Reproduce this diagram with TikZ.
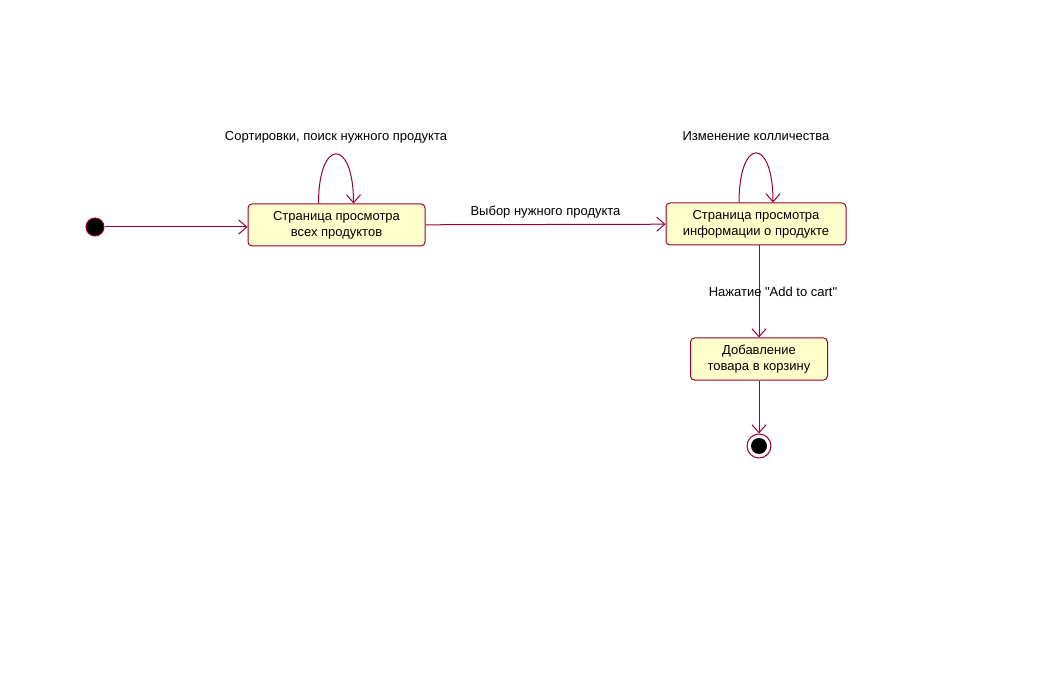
\documentclass[tikz,border=0pt]{standalone}
\usepackage{fontspec}
\setmainfont{Liberation Sans}
\usetikzlibrary{arrows.meta}
\definecolor{umlred}{RGB}{153,0,51}
\definecolor{umlyellow}{RGB}{255,255,204}

\begin{document}
\begin{tikzpicture}[x=1pt, y=-1pt,
    state/.style={draw=umlred, line width=1pt, fill=umlyellow, rectangle, rounded corners=4pt, minimum height=42pt, inner sep=0pt, align=center, font=\fontsize{13}{16}\selectfont},
    trans/.style={draw=umlred, line width=1pt, -{Straight Barb[length=8pt, width=14pt]}},
    lbl/.style={font=\fontsize{13}{15}\selectfont, inner sep=1pt}]
    \useasboundingbox (0,0) rectangle (1047,676);

    % States
    \node[circle, fill=black, draw=umlred, line width=1pt, minimum size=18pt, inner sep=0pt] (init) at (95,227) {};
    \node[state, minimum width=177pt] (state-1) at (336.5,225) {Страница просмотра\\всех продуктов};
    \node[state, minimum width=180pt] (state-2) at (756,224) {Страница просмотра\\информации о продукте};
    \node[state, minimum width=137pt] (state-3) at (759,359) {Добавление\\товара в корзину};
    \node[circle, fill=white, draw=umlred, line width=1pt, minimum size=24pt, inner sep=0pt] (final) at (759,446) {};
    \node[circle, fill=black, minimum size=16pt, inner sep=0pt] (final-dot) at (final.center) {};

    % Transitions
    \draw[trans] (init) -- (init -| state-1.west);
    \draw[trans] (state-1) -- node[lbl, above=5pt] {Выбор нужного продукта} (state-2);
    \draw[trans] ([xshift=-18pt]state-1.north) .. controls +(0,-66) and +(0,-66) .. node[lbl, above=9pt] {Сортировки, поиск нужного продукта} ([xshift=17pt]state-1.north);
    \draw[trans] ([xshift=-17pt]state-2.north) .. controls +(0,-66) and +(0,-66) .. node[lbl, above=11pt] {Изменение колличества} ([xshift=17pt]state-2.north);
    \draw[trans] (state-2.south -| final) -- node[lbl, xshift=14pt] {Нажатие \textquotedbl Add to cart\textquotedbl} (state-3.north -| final);
    \draw[trans] (state-3.south -| final) -- (final);

\end{tikzpicture}
\end{document}
